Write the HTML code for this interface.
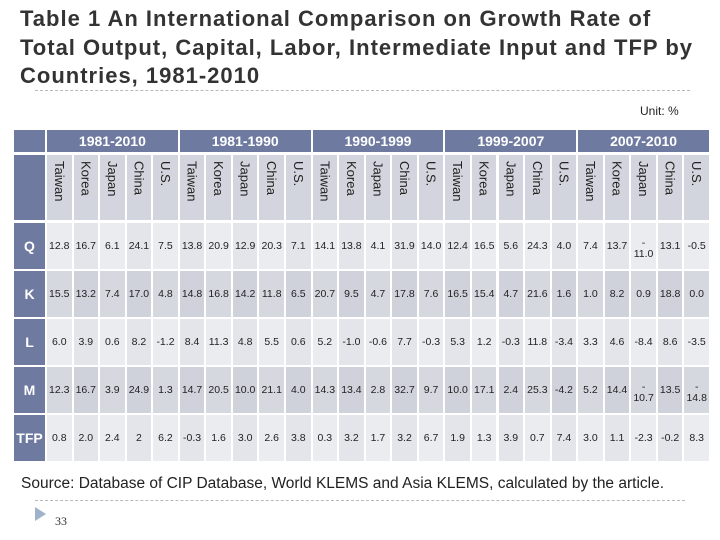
<!DOCTYPE html>
<html><head><meta charset="utf-8"><style>
body{margin:0;width:720px;height:540px;background:#fff;position:relative;overflow:hidden;font-family:"Liberation Sans",Arial,sans-serif}
.c{position:absolute;display:flex;align-items:center;justify-content:center;text-align:center;box-sizing:border-box}
.v{writing-mode:vertical-rl;font-size:13px;color:#222;justify-content:flex-start;padding-top:6px}
.d{font-size:10.5px;color:#222;line-height:11px}
.h{background:#6e7aa0;color:#fff;font-weight:bold;font-size:14px}
</style></head><body>
<div style="position:absolute;left:20px;top:5px;width:700px;font-weight:bold;font-size:22px;letter-spacing:1px;line-height:28.5px;color:#333;white-space:nowrap">Table 1 An International Comparison on Growth Rate of<br>Total Output, Capital, Labor, Intermediate Input and TFP by<br>Countries, 1981-2010</div>
<div style="position:absolute;left:35px;top:90px;width:655px;border-top:1px dashed #b8b8c0"></div>
<div style="position:absolute;left:640px;top:104px;font-size:12px;color:#222">Unit: %</div>
<div id="tbl"></div>
<div style="position:absolute;left:21px;top:475px;font-size:15.5px;color:#222;white-space:nowrap">Source: Database of CIP Database, World KLEMS and Asia KLEMS, calculated by the article.</div>
<div style="position:absolute;left:35px;top:500px;width:650px;border-top:1px dashed #b8b8c0"></div>
<div style="position:absolute;left:35px;top:507px;width:0;height:0;border-top:7px solid transparent;border-bottom:7px solid transparent;border-left:11px solid #9fb2cc"></div>
<div style="position:absolute;left:55px;top:514px;font-size:12px;color:#333;font-family:'Liberation Serif',serif">33</div>
<script>
const periods=["1981-2010","1981-1990","1990-1999","1999-2007","2007-2010"];
const countries=["Taiwan","Korea","Japan","China","U.S."];
const rowLabels=["Q","K","L","M","TFP"];
const rowQ=["12.8","16.7","6.1","24.1","7.5","13.8","20.9","12.9","20.3","7.1","14.1","13.8","4.1","31.9","14.0","12.4","16.5","5.6","24.3","4.0","7.4","13.7","-11.0","13.1","-0.5"];
const rowK=["15.5","13.2","7.4","17.0","4.8","14.8","16.8","14.2","11.8","6.5","20.7","9.5","4.7","17.8","7.6","16.5","15.4","4.7","21.6","1.6","1.0","8.2","0.9","18.8","0.0"];
const rowL=["6.0","3.9","0.6","8.2","-1.2","8.4","11.3","4.8","5.5","0.6","5.2","-1.0","-0.6","7.7","-0.3","5.3","1.2","-0.3","11.8","-3.4","3.3","4.6","-8.4","8.6","-3.5"];
const rowM=["12.3","16.7","3.9","24.9","1.3","14.7","20.5","10.0","21.1","4.0","14.3","13.4","2.8","32.7","9.7","10.0","17.1","2.4","25.3","-4.2","5.2","14.4","-10.7","13.5","-14.8"];
const rowTFP=["0.8","2.0","2.4","2","6.2","-0.3","1.6","3.0","2.6","3.8","0.3","3.2","1.7","3.2","6.7","1.9","1.3","3.9","0.7","7.4","3.0","1.1","-2.3","-0.2","8.3"];
const rows=[rowQ,rowK,rowL,rowM,rowTFP];
const T=document.getElementById('tbl');
function cell(x,y,w,h,cls,bg,html){const e=document.createElement('div');e.className='c '+cls;e.style.cssText+=`left:${x}px;top:${y}px;width:${w}px;height:${h}px;background:${bg}`;e.innerHTML=html;T.appendChild(e);return e;}
const X0=47,CW=26.56,W=24.5;
let e=cell(14,130,31,22,'h','#6e7aa0','');


e=cell(14,155,31,65,'h','#6e7aa0','');


periods.forEach((p,g)=>{const el=cell(X0+g*5*CW,130,5*CW-2,22,'h','#6e7aa0',p);


for(let k=0;k<5;k++){const i=g*5+k;const c=cell(X0+i*CW,155,W,65,'v','#d3d5de',countries[k]);

}});
rows.forEach((r,ri)=>{const y=223+ri*48;const dark=ri%2==1;
const l=cell(14,y,31,46,'h','#6e7aa0',rowLabels[ri]);


r.forEach((v,i)=>{let bg=dark?(i%2?'#d0d2db':'#d6d8e0'):(i%2?'#e4e5eb':'#ebecf0');
let txt=(v.length>4&&v[0]=='-')?'<span style="margin-top:6px">-<br>'+v.slice(1)+'</span>':v;
const c=cell(X0+i*CW,y,W,46,'d',bg,txt);

});});
</script>
</body></html>
